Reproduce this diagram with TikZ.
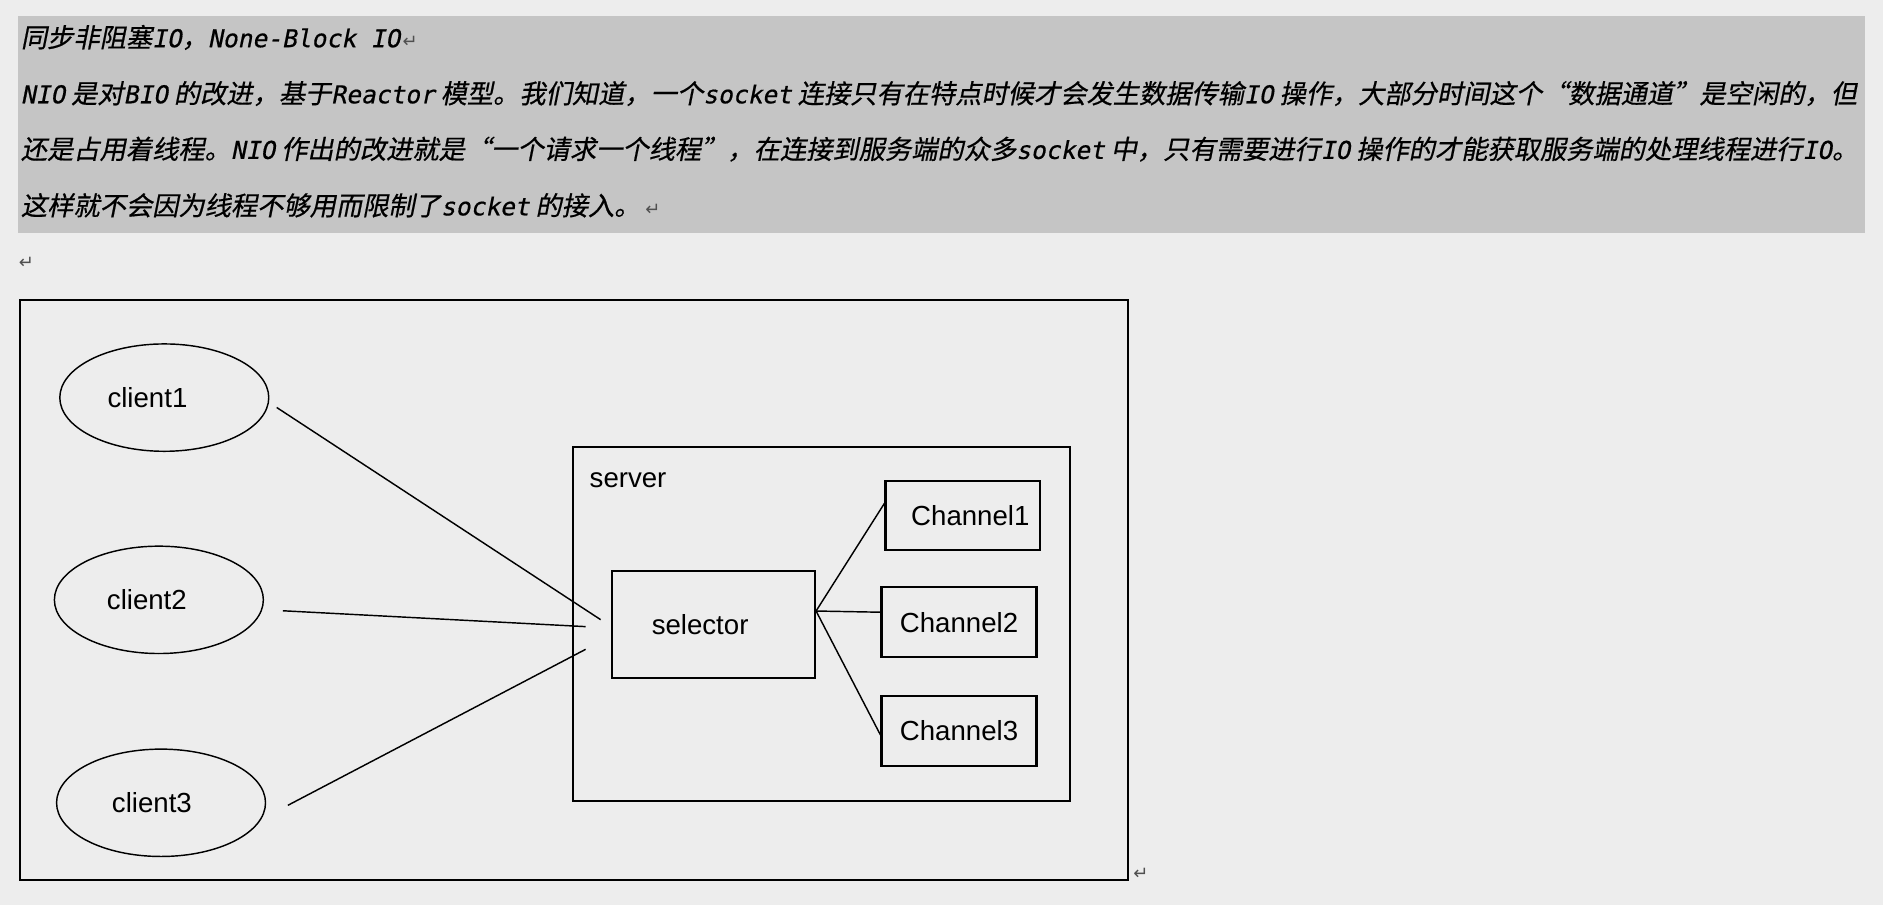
\documentclass[tikz,border=0pt]{standalone}
\usepackage{fontspec}
\setmainfont{Liberation Sans}
\newfontfamily\cjk{Noto Sans CJK SC}[FakeSlant=0.2, FakeBold=0.6, CharacterWidth=Full]
\newfontfamily\mono{DejaVu Sans Mono}[FakeSlant=0.2, FakeBold=0.6, Scale=0.935]
\newfontfamily\monow{DejaVu Sans Mono}[FakeSlant=0.2, FakeBold=0.6, Scale=0.936]
\newfontfamily\sym{DejaVu Sans}
\usetikzlibrary{shapes.geometric}
\definecolor{pageGray}{RGB}{237,237,237}
\definecolor{noteGray}{RGB}{197,197,197}
\definecolor{markGray}{RGB}{80,80,80}
\newcommand{\lat}[1]{{\mono\fontdimen2\font=2.45pt #1}}
\newcommand{\mk}{{\sym\fontsize{7.5pt}{7.5pt}\selectfont\color{markGray}↵}}

\begin{document}
\begin{tikzpicture}[x=0.5pt, y=-0.5pt,
  noteline/.style={anchor=base west, inner sep=0pt, font=\fontsize{10.93pt}{13pt}\cjk},
  client/.style={ellipse, draw, line width=0.6pt, minimum width=87pt, minimum height=44.7pt, inner sep=0pt, font=\fontsize{11.5pt}{13pt}\selectfont},
  box/.style={draw, line width=0.9pt, inner sep=0pt, font=\fontsize{11.5pt}{13pt}\selectfont},
  wire/.style={line width=0.6pt}]

  \fill[pageGray] (0,0) rectangle (1568,753.6);
  \useasboundingbox (0,0) rectangle (1568,753.6);

  % note text
  \fill[noteGray] (15.3,13.3) rectangle (1553,194);
  \node[noteline] (l1) at (17,39.3) {同步非阻塞\lat{IO}，{\monow None-Block IO}\kern1pt\mk};
  \node[noteline] (l2) at (17,86) {\lat{NIO }是对\lat{BIO }的改进，基于\lat{Reactor }模型。我们知道，一个\lat{socket }连接只有在特点时候才会发生数据传输\lat{IO }操作，大部分时间这个“数据通道”是空闲的，但};
  \node[noteline] (l3) at (17,132.3) {还是占用着线程。\lat{NIO }作出的改进就是“一个请求一个线程”，在连接到服务端的众多\lat{socket }中，只有需要进行\lat{IO }操作的才能获取服务端的处理线程进行\lat{IO}。};
  \node[noteline] (l4) at (17,179.3) {这样就不会因为线程不够用而限制了\lat{socket }的接入。\kern2pt\mk};
  \node[inner sep=0pt] (m1) at (22,219) {\mk};

  % diagram
  \draw[line width=0.9pt] (17,249.8) rectangle (939.6,732.7);
  \node[inner sep=0pt] (m2) at (950,728) {\mk};

  \node[client] (c1) at (136.8,331.1) {client1\kern14pt};
  \node[client] (c2) at (132.3,499.5) {client2\kern10pt};
  \node[client] (c3) at (134.1,668.5) {client3\kern7.6pt};

  \node[box, minimum width=207.1pt, minimum height=147.6pt] (srv) at (683.9,519.5) {};
  \node[font=\fontsize{11.5pt}{13pt}\selectfont, inner sep=0pt] (srvl) at (523,399.7) {server};
  \node[box, minimum width=84.65pt, minimum height=44.55pt] (sel) at (594,519.8) {selector\kern11pt};
  \node[box, minimum width=64.3pt, minimum height=28.9pt] (ch1) at (801.7,429.1) {\kern6.3pt Channel1};
  \node[box, minimum width=64.55pt, minimum height=29.15pt] (ch2) at (798.6,518.2) {Channel2};
  \node[box, minimum width=64.55pt, minimum height=29.15pt] (ch3) at (798.6,608.6) {Channel3};

  \draw[wire] ([shift={(6,8.2)}]c1.east) -- ([shift={(-8.3,-3.8)}]sel.west);
  \draw[wire] ([shift={(15.7,9.1)}]c2.east) -- ([shift={(-20.8,2)}]sel.west);
  \draw[wire] ([shift={(18,2.1)}]c3.east) -- ([shift={(-20.8,20.9)}]sel.west);

  \coordinate (fork) at ([yshift=5.5pt]sel.east);
  \draw[wire] (fork) -- ([yshift=5pt]ch1.west);
  \draw[wire] (fork) -- ([yshift=4.2pt]ch2.west);
  \draw[wire] (fork) -- ([yshift=-1.7pt]ch3.west);

\end{tikzpicture}
\end{document}
